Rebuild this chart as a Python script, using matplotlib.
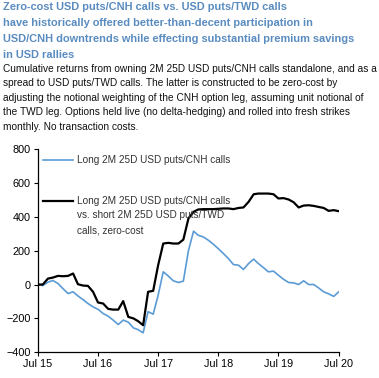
import numpy as np
import pandas as pd
import matplotlib
matplotlib.use("Agg")
import matplotlib.pyplot as plt

plt.rcParams["font.family"] = ["Liberation Sans", "DejaVu Sans"]

# monthly observations, Jul 2015 .. Jul 2020
dates = pd.date_range("2015-07-01", periods=61, freq="MS")

cnh_calls = [0, -6, 14, 24, 6, -24, -53, -43, -67, -89, -112, -132,
             -146, -171, -187, -210, -236, -210, -222, -256, -266, -285, -160, -175,
             -63, 75, 50, 22, 12, 20, 200, 315, 291, 281, 262, 238,
             212, 183, 153, 118, 114, 89, 124, 150, 124, 100, 75, 79,
             55, 31, 12, 10, 0, 22, 0, 0, -20, -43, -55, -70, -43]

cnh_vs_twd = [0, 0, 35, 41, 51, 49, 51, 65, 2, -6, -8, -43,
              -106, -112, -144, -148, -148, -98, -191, -200, -216, -240, -43, -37,
              114, 242, 246, 242, 242, 265, 390, 429, 443, 445, 445, 445,
              447, 449, 449, 445, 452, 455, 488, 533, 537, 537, 537, 533,
              508, 510, 502, 486, 455, 466, 468, 464, 458, 452, 435, 439, 433]

label_cnh = "Long 2M 25D USD puts/CNH calls"
label_spread = ("Long 2M 25D USD puts/CNH calls\n"
                "vs. short 2M 25D USD puts/TWD\n"
                "calls, zero-cost")

yticks = [-400, -200, 0, 200, 400, 600, 800]
xtick_dates = pd.date_range("2015-07-01", "2020-07-01", freq="12MS")
xtick_labels = ["Jul 15", "Jul 16", "Jul 17", "Jul 18", "Jul 19", "Jul 20"]

title = ("Zero-cost USD puts/CNH calls vs. USD puts/TWD calls\n"
         "have historically offered better-than-decent participation in\n"
         "USD/CNH downtrends while effecting substantial premium savings\n"
         "in USD rallies")
subtitle = ("Cumulative returns from owning 2M 25D USD puts/CNH calls standalone, and as a\n"
            "spread to USD puts/TWD calls. The latter is constructed to be zero-cost by\n"
            "adjusting the notional weighting of the CNH option leg, assuming unit notional of\n"
            "the TWD leg. Options held live (no delta-hedging) and rolled into fresh strikes\n"
            "monthly. No transaction costs.")

W, H = 379, 378
fig = plt.figure(figsize=(W / 100, H / 100), dpi=100)

fig.text(3 / W, 1 - 1.5 / H, title, ha="left", va="top", fontsize=7.9,
         fontweight="bold", color="#5a8cc0", linespacing=1.76)
fig.text(3 / W, 1 - 64 / H, subtitle, ha="left", va="top", fontsize=7.3,
         color="#111111", linespacing=1.55)

ax = fig.add_axes([37.7 / W, 1 - 352.3 / H, 301 / W, 203.3 / H])
ax.plot(dates, cnh_calls, color="#5b9bd5", lw=1.2)
ax.plot(dates, cnh_vs_twd, color="black", lw=1.6)

ax.set_xlim(dates[0], dates[-1])
ax.set_ylim(-400, 800)
ax.set_yticks(yticks)
ax.set_xticks(xtick_dates)
ax.set_xticklabels(xtick_labels)
ax.tick_params(labelsize=7.8, length=3, width=0.8, color="black", pad=2)
for s in ["top", "right"]:
    ax.spines[s].set_visible(False)
for s in ["left", "bottom"]:
    ax.spines[s].set_linewidth(0.9)

# legend drawn by hand so the handle sits on the first text line
leg_font = 7.2
ax.plot([0.018, 0.118], [1 - 11 / 203.3] * 2, transform=ax.transAxes,
        color="#5b9bd5", lw=1.2, clip_on=False)
ax.text(0.131, 1 - 11 / 203.3, label_cnh, transform=ax.transAxes,
        ha="left", va="center", fontsize=leg_font, color="#333333")
ax.plot([0.018, 0.118], [1 - 52 / 203.3] * 2, transform=ax.transAxes,
        color="black", lw=1.6, clip_on=False)
ax.text(0.131, 1 - 46.5 / 203.3, label_spread, transform=ax.transAxes,
        ha="left", va="top", fontsize=leg_font, color="#333333", linespacing=1.62)

fig.savefig("out.png", dpi=100)
